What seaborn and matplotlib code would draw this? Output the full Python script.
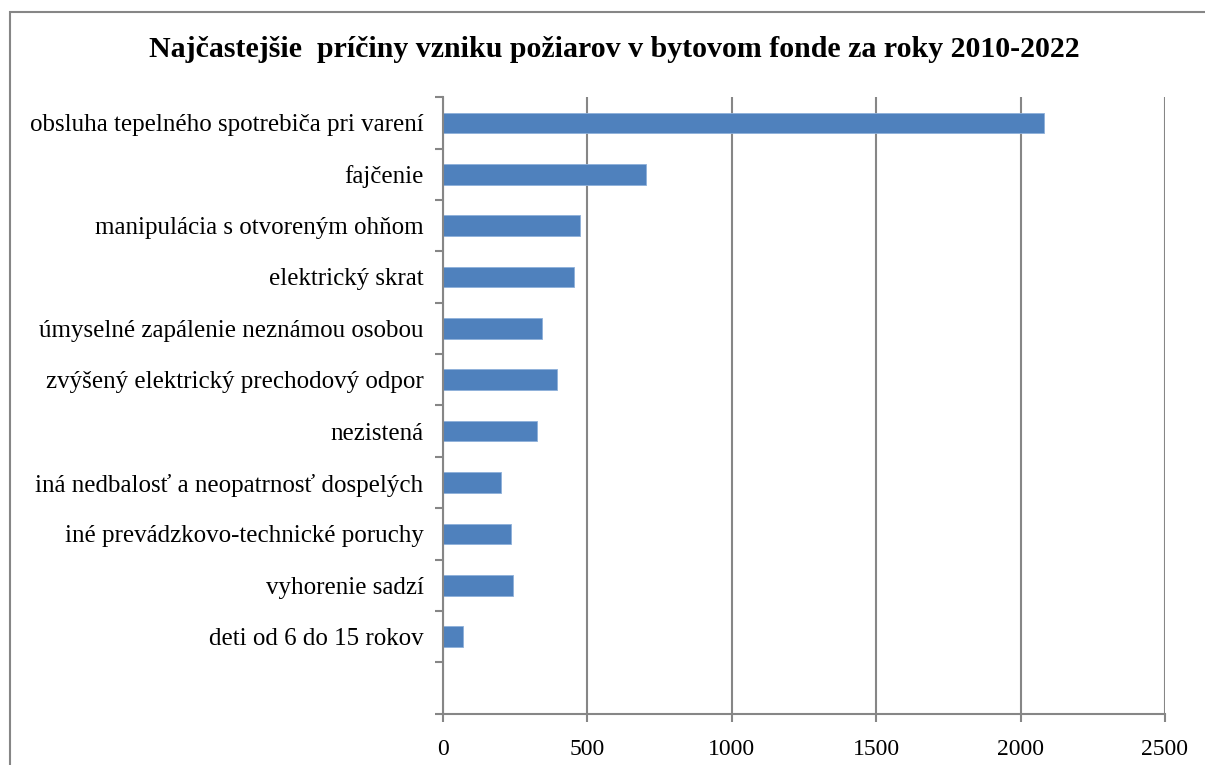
import matplotlib
matplotlib.use("Agg")
import matplotlib.pyplot as plt
import seaborn as sns
import pandas as pd
import numpy as np
from matplotlib.patches import Rectangle

# priciny poziarov, poradie zhora nadol
priciny = [
    "obsluha tepelného spotrebiča pri varení",
    "fajčenie",
    "manipulácia s otvoreným ohňom",
    "elektrický skrat",
    "úmyselné zapálenie neznámou osobou",
    "zvýšený elektrický prechodový odpor",
    "nezistená",
    "iná nedbalosť a neopatrnosť dospelých",
    "iné prevádzkovo-technické poruchy",
    "vyhorenie sadzí",
    "deti od 6 do 15 rokov",
]
pocty = [2080, 703, 473, 453, 344, 394, 327, 202, 236, 243, 68]
x_ticks = [0, 500, 1000, 1500, 2000, 2500]

df = pd.DataFrame({"pricina": priciny, "pocet": pocty})

sns.set_theme(style="white")
plt.rcParams["font.family"] = ["Liberation Serif", "DejaVu Serif"]
plt.rcParams["text.color"] = "black"
plt.rcParams["xtick.labelcolor"] = "black"
plt.rcParams["ytick.labelcolor"] = "black"

grey = "#868686"

fig = plt.figure(figsize=(12.05, 7.65), dpi=100)
ax = fig.add_axes([0.3676, 0.067, 0.5992, 0.806])

sns.barplot(data=df, x="pocet", y="pricina", orient="h", color="#4F81BD",
            saturation=1, width=0.4, edgecolor="#8EB0DA", linewidth=0.6, ax=ax)

ax.set_xlim(0, 2500)
ax.set_ylim(len(priciny) + 0.5, -0.5)
ax.set_xticks(x_ticks)
ax.set_xticklabels([str(t) for t in x_ticks], fontsize=17)
ax.set_yticks(range(len(priciny)))
ax.set_yticklabels(priciny, fontsize=18)
ax.set_yticks(np.arange(-0.5, len(priciny) + 1, 1), minor=True)
ax.tick_params(axis="y", which="major", length=0, pad=14)
ax.tick_params(axis="y", which="minor", length=6, width=1.5, color=grey, left=True)
ax.tick_params(axis="x", length=6, width=1.5, color=grey, bottom=True, pad=12)
ax.set_xlabel("")
ax.set_ylabel("")

ax.grid(axis="x", color=grey, linewidth=1.5)
ax.grid(axis="y", visible=False)
ax.set_axisbelow(True)
for s in ["top", "right"]:
    ax.spines[s].set_visible(False)
for s in ["left", "bottom"]:
    ax.spines[s].set_color(grey)
    ax.spines[s].set_linewidth(1.5)

fig.text(0.51, 0.935, "Najčastejšie  príčiny vzniku požiarov v bytovom fonde za roky 2010-2022",
         ha="center", va="center", fontsize=21.5, fontweight="bold", color="black")

# ramik okolo grafu
fig.patches.append(Rectangle((10 / 1205, -0.05), 1.1, 1 - 12 / 765 + 0.05,
                             transform=fig.transFigure, fill=False,
                             edgecolor=grey, linewidth=1.5))

fig.savefig("out.png", dpi=100)
